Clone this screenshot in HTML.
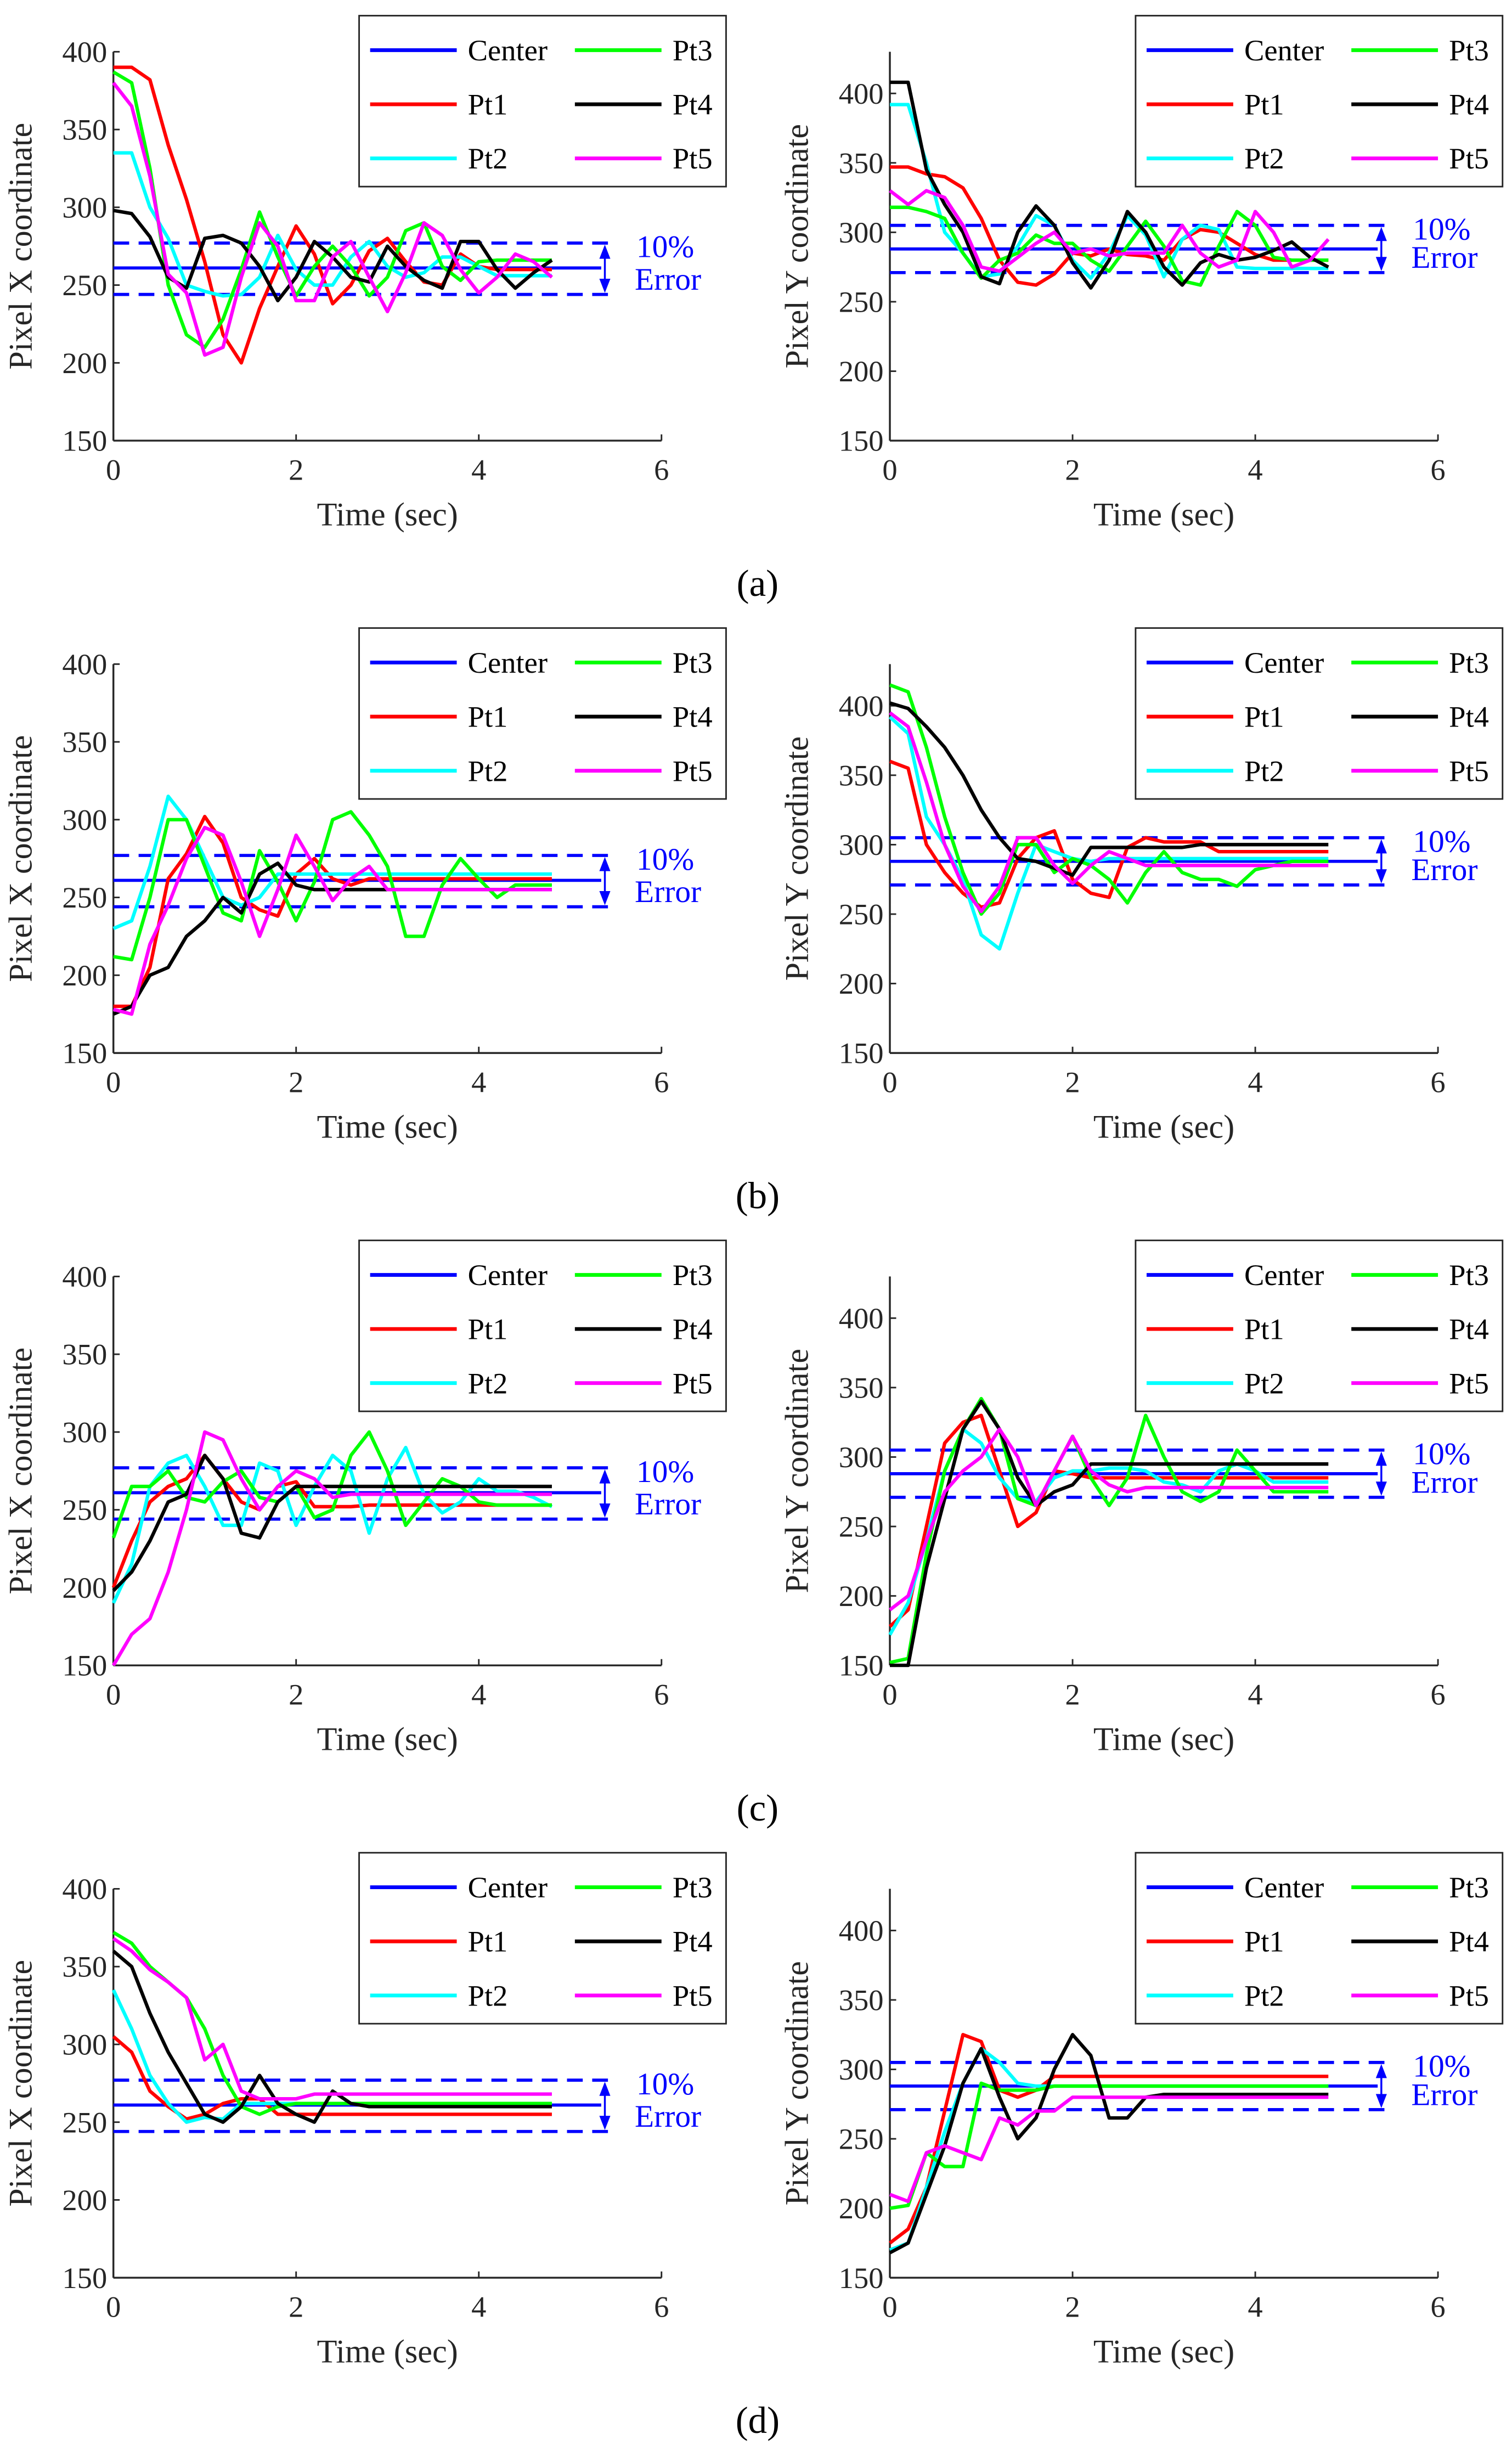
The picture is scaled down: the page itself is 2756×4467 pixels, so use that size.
<!DOCTYPE html>
<html><head><meta charset="utf-8"><style>
html,body{margin:0;padding:0;background:#fff}
svg{display:block}
text{font-family:"Liberation Serif",serif;fill:#262626}
</style></head>
<body>
<svg id="fig" width="2756" height="4467" viewBox="0 0 960 1563" preserveAspectRatio="none" xmlns="http://www.w3.org/2000/svg"></svg>
<script>
const times = [0,0.2,0.4,0.6,0.8,1.0,1.2,1.4,1.6,1.8,2.0,2.2,2.4,2.6,2.8,3.0,3.2,3.4,3.6,3.8,4.0,4.2,4.4,4.6,4.8];
const xTicks = [0,2,4,6];
const yTicksX = [150,200,250,300,350,400];
const yTicksY = [150,200,250,300,350,400];
const seriesNames = ["Pt1","Pt2","Pt3","Pt4","Pt5"];
const seriesColors = ["#ff0000","#00ffff","#00ff00","#000000","#ff00ff"];
const centerX = [261,277,244];
const centerY = [288,305,271];
const panelLabels = ["(a)","(b)","(c)","(d)"];

// Panel (a)
const aX1=[390,390,382,340,305,265,218,200,235,262,288,270,238,250,272,280,265,252,250,270,262,260,260,260,260];
const aX2=[335,335,300,280,250,246,243,244,255,282,260,250,250,268,278,262,255,258,268,268,262,256,256,256,256];
const aX3=[387,380,325,250,218,210,228,260,297,268,243,262,275,262,243,255,285,290,262,253,265,266,266,266,266];
const aX4=[298,296,281,255,248,280,282,277,262,240,255,278,268,255,252,275,262,253,248,278,278,260,248,258,266];
const aX5=[380,365,320,257,245,205,210,255,290,275,240,240,268,278,255,233,258,290,282,260,245,255,270,265,255];
const aY1=[347,347,342,340,332,310,280,264,262,270,285,283,288,284,283,280,295,302,300,292,284,280,280,280,280];
const aY2=[392,392,350,300,285,268,270,290,312,305,280,267,285,312,298,268,295,305,302,275,274,274,274,274,274];
const aY3=[318,318,315,310,285,267,280,285,298,292,292,280,272,290,308,290,265,262,290,315,305,282,280,280,280];
const aY4=[408,408,345,320,300,268,263,300,319,305,278,260,280,315,300,275,262,278,284,280,282,287,293,282,275];
const aY5=[330,320,330,325,305,275,272,282,292,300,285,288,283,285,285,285,305,285,275,280,315,300,275,280,295];
// Panel (b)
const bX1=[180,180,205,262,278,302,285,250,242,238,265,275,262,258,262,262,262,262,262,262,262,262,262,262,262];
const bX2=[230,235,270,315,300,275,250,245,250,265,265,265,265,265,265,265,265,265,265,265,265,265,265,265,265];
const bX3=[212,210,250,300,300,270,240,235,280,260,235,260,300,305,290,270,225,225,258,275,262,250,258,258,258];
const bX4=[175,180,200,205,225,235,250,240,265,272,258,255,255,255,255,255,255,255,255,255,255,255,255,255,255];
const bX5=[178,175,220,245,275,295,290,260,225,255,290,270,248,262,270,255,255,255,255,255,255,255,255,255,255];
const bY1=[360,355,300,280,265,255,258,290,305,310,275,265,262,298,305,302,302,302,295,295,295,295,295,295,295];
const bY2=[392,380,320,300,275,235,225,265,300,295,290,288,290,290,290,290,290,290,290,290,290,290,290,290,290];
const bY3=[415,410,370,320,280,250,265,300,300,280,290,285,275,258,280,295,280,275,275,270,282,285,288,288,288];
const bY4=[402,398,385,370,350,325,305,290,288,283,278,298,298,298,298,298,298,300,300,300,300,300,300,300,300];
const bY5=[395,385,345,300,270,252,270,305,305,285,272,285,295,290,285,285,285,285,285,285,285,285,285,285,285];
// Panel (c)
const cX1=[200,230,255,265,270,285,270,255,250,265,268,252,252,252,253,253,253,253,253,253,253,253,253,253,253];
const cX2=[190,215,265,280,285,265,240,240,280,275,240,265,285,275,235,270,290,260,248,255,270,262,262,258,252];
const cX3=[232,265,265,275,258,255,268,275,258,255,265,245,250,285,300,275,240,255,270,265,255,253,253,253,253];
const cX4=[198,210,230,255,260,285,270,235,232,255,265,265,265,265,265,265,265,265,265,265,265,265,265,265,265];
const cX5=[150,170,180,210,250,300,295,270,250,265,275,270,258,260,260,260,260,260,260,260,260,260,260,260,260];
const cY1=[178,190,250,310,325,330,290,250,260,290,288,285,285,285,285,285,285,285,285,285,285,285,285,285,285];
const cY2=[172,195,240,290,320,310,285,270,268,285,290,290,292,292,290,282,280,275,290,295,290,282,282,282,282];
const cY3=[152,155,230,290,320,342,320,270,265,290,315,285,265,285,330,300,275,268,275,305,290,275,275,275,275];
const cY4=[150,150,220,270,320,340,320,285,265,275,280,295,295,295,295,295,295,295,295,295,295,295,295,295,295];
const cY5=[190,200,240,275,290,300,320,300,265,290,315,290,280,275,278,278,278,278,278,278,278,278,278,278,278];
// Panel (d)
const dX1=[305,295,270,260,252,255,262,265,265,255,255,255,255,255,255,255,255,255,255,255,255,255,255,255,255];
const dX2=[335,310,280,262,250,253,252,262,262,262,262,262,262,262,262,262,262,262,262,262,262,262,262,262,262];
const dX3=[372,365,350,340,330,310,280,260,255,260,262,262,262,262,262,262,262,262,262,262,262,262,262,262,262];
const dX4=[360,350,320,295,275,255,250,260,280,262,255,250,270,262,260,260,260,260,260,260,260,260,260,260,260];
const dX5=[368,360,348,340,330,290,300,270,265,265,265,268,268,268,268,268,268,268,268,268,268,268,268,268,268];
const dY1=[175,185,215,270,325,320,285,280,285,295,295,295,295,295,295,295,295,295,295,295,295,295,295,295,295];
const dY2=[170,175,215,255,290,315,305,290,288,288,288,288,288,288,288,288,288,288,288,288,288,288,288,288,288];
const dY3=[200,202,240,230,230,290,285,285,285,288,288,288,288,288,288,288,288,288,288,288,288,288,288,288,288];
const dY4=[168,175,210,245,290,315,280,250,265,300,325,310,265,265,280,282,282,282,282,282,282,282,282,282,282];
const dY5=[210,205,240,245,240,235,265,260,270,270,280,280,280,280,280,280,280,280,280,280,280,280,280,280,280];

const rowsX=[[aX1,aX2,aX3,aX4,aX5],[bX1,bX2,bX3,bX4,bX5],[cX1,cX2,cX3,cX4,cX5],[dX1,dX2,dX3,dX4,dX5]];
const rowsY=[[aY1,aY2,aY3,aY4,aY5],[bY1,bY2,bY3,bY4,bY5],[cY1,cY2,cY3,cY4,cY5],[dY1,dY2,dY3,dY4,dY5]];
const rowOffsets=[0,390.5,781,1171.5];

const NS="http://www.w3.org/2000/svg";
const svg=document.getElementById('fig');
function mk(tag,attrs,parent){const e=document.createElementNS(NS,tag);for(const k in attrs)e.setAttribute(k,attrs[k]);(parent||svg).appendChild(e);return e;}
function txt(s,attrs,parent){const e=mk('text',attrs,parent);e.textContent=s;return e;}

function drawPanel(g,x0,yTop,yMax,seriesArr,center,ylabel){
  const xL=x0, xR=x0+348, yB=yTop+248;
  const yMin=150;
  const sx=t=>xL+(t/6)*(xR-xL);
  const sy=v=>yB-(v-yMin)/(yMax-yMin)*(yB-yTop);
  const ax=mk('g',{},g);
  
  
  mk('line',{x1:xL,y1:yB,x2:xR,y2:yB,stroke:'#262626','stroke-width':1.2},ax);
  mk('line',{x1:xL,y1:yB,x2:xL,y2:yTop,stroke:'#262626','stroke-width':1.2},ax);
  xTicks.forEach(t=>{
    mk('line',{x1:sx(t),y1:yB,x2:sx(t),y2:yB-4,stroke:'#262626','stroke-width':1},ax);
    const l=txt(String(t),{x:sx(t),y:yB+25,'text-anchor':'middle','font-size':19},ax);
    
    
  });
  const yt = ylabel.indexOf('X')>=0?yTicksX:yTicksY;
  yt.forEach(v=>{
    if(v>yMax) return;
    mk('line',{x1:xL,y1:sy(v),x2:xL+4,y2:sy(v),stroke:'#262626','stroke-width':1},ax);
    const l=txt(String(v),{x:xL-4,y:sy(v)+6.5,'text-anchor':'end','font-size':19},ax);
    
    
  });
  const xt=txt('Time (sec)',{x:(xL+xR)/2,y:yB+54,'text-anchor':'middle','font-size':21},g);
  
  
  const cy=yTop+124;
  const yl=txt(ylabel,{x:x0-52,y:cy,'text-anchor':'middle','font-size':21,transform:`rotate(-90 ${x0-52} ${cy})`},g);
  
  
  const cl=mk('line',{x1:xL,y1:sy(center[0]),x2:sx(5.34),y2:sy(center[0]),stroke:'#0000ff','stroke-width':2},g);
  
  
  [center[1],center[2]].forEach(v=>{
    const d=mk('line',{x1:xL,y1:sy(v),x2:sx(5.45),y2:sy(v),stroke:'#0000ff','stroke-width':2,'stroke-dasharray':'10,6'},g);
    
    
  });
  const axX=sx(5.38);
  const arr=mk('g',{},g);
  
  
  mk('line',{x1:axX,y1:sy(center[1])+3,x2:axX,y2:sy(center[2])-3,stroke:'#0000ff','stroke-width':1.2},arr);
  mk('polygon',{points:`${axX},${sy(center[1])+1} ${axX-3.5},${sy(center[1])+10} ${axX+3.5},${sy(center[1])+10}`,fill:'#0000ff'},arr);
  mk('polygon',{points:`${axX},${sy(center[2])-1} ${axX-3.5},${sy(center[2])-10} ${axX+3.5},${sy(center[2])-10}`,fill:'#0000ff'},arr);
  const t1=txt('10%',{x:axX+20,y:sy(center[1])+9,'font-size':20,style:'fill:#0000ff'},g);
  
  
  const t2=txt('Error',{x:axX+19,y:sy(center[2])-3,'font-size':20,style:'fill:#0000ff'},g);
  
  
  seriesArr.forEach((vals,i)=>{
    const pts=vals.map((v,k)=>sx(times[k]).toFixed(1)+','+sy(v).toFixed(1)).join(' ');
    const p=mk('polyline',{points:pts,fill:'none',stroke:seriesColors[i],'stroke-width':2.2,'stroke-linejoin':'round'},g);
    
    
  });
  const lx=x0+156, ly=yTop-23;
  const lg=mk('g',{},g);
  
  
  mk('rect',{x:lx,y:ly,width:233,height:109,fill:'#fff',stroke:'#262626','stroke-width':1},lg);
  const entries=[['Center','#0000ff',0,0],['Pt3',seriesColors[2],1,0],['Pt1',seriesColors[0],0,1],['Pt4',seriesColors[3],1,1],['Pt2',seriesColors[1],0,2],['Pt5',seriesColors[4],1,2]];
  entries.forEach(e=>{
    const ex=lx+7+e[2]*130, ey=ly+22+e[3]*34.5;
    const eg=mk('g',{},lg);
    
    
    mk('line',{x1:ex,y1:ey,x2:ex+55,y2:ey,stroke:e[1],'stroke-width':2.4},eg);
    txt(e[0],{x:ex+62,y:ey+6.5,'font-size':19,style:'fill:#000'},eg);
  });
}

rowOffsets.forEach((dy,r)=>{
  const g=mk('g',{});
  
  
  drawPanel(g,72,33+dy,400,rowsX[r],centerX,'Pixel X coordinate');
  drawPanel(g,565,33+dy,430,rowsY[r],centerY,'Pixel Y coordinate');
  const pl=txt(panelLabels[r],{x:481,y:380+dy,'text-anchor':'middle','font-size':24,style:'fill:#000'},g);
  
  
});
</script>
</body></html>
